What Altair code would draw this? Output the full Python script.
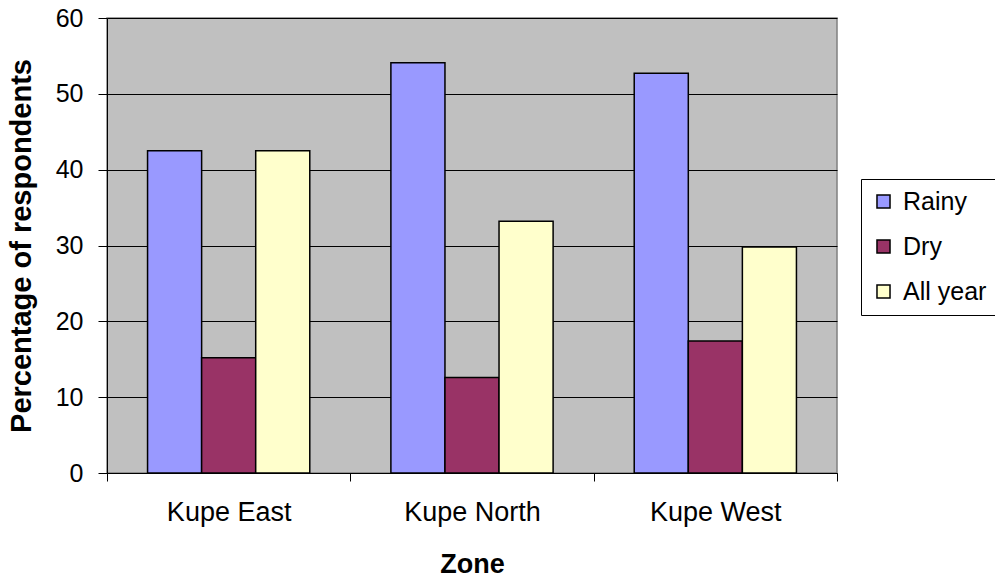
import altair as alt
import pandas as pd

zones = ["Kupe East", "Kupe North", "Kupe West"]
seasons = ["Rainy", "Dry", "All year"]
rainy = [42.5, 54.1, 52.7]
dry = [15.2, 12.6, 17.4]
all_year = [42.5, 33.2, 29.8]
colors = ["#9999FF", "#993366", "#FFFFCC"]
y_ticks = [0, 10, 20, 30, 40, 50, 60]

rows = []
for i, z in enumerate(zones):
    for s, vals in zip(seasons, [rainy, dry, all_year]):
        rows.append({"Zone": z, "Season": s, "Value": vals[i]})
df = pd.DataFrame(rows)

FONT = "Liberation Sans"

chart = alt.Chart(df).mark_bar(stroke="black", strokeWidth=1.5).encode(
    x=alt.X("Zone:N", sort=zones,
            scale=alt.Scale(paddingInner=0, paddingOuter=0),
            axis=alt.Axis(title="Zone", labelAngle=0, tickBand="extent",
                          labelFontSize=27, titleFontSize=27, titleFontWeight="bold",
                          labelPadding=18, titlePadding=26, tickSize=8,
                          domainColor="black", tickColor="black", labelColor="black",
                          titleColor="black", grid=False)),
    xOffset=alt.XOffset("Season:N", sort=seasons,
                        scale=alt.Scale(paddingInner=0, paddingOuter=0.75)),
    y=alt.Y("Value:Q", scale=alt.Scale(domain=[0, 60], nice=False),
            axis=alt.Axis(title="Percentage of respondents", values=y_ticks,
                          labelFontSize=25, titleFontSize=29, titleFontWeight="bold",
                          labelPadding=15, titlePadding=19, tickSize=9,
                          domainColor="black", tickColor="black", labelColor="black",
                          titleColor="black", grid=True, gridColor="black",
                          gridOpacity=1, gridWidth=1)),
    color=alt.Color("Season:N", sort=seasons,
                    scale=alt.Scale(domain=seasons, range=colors),
                    legend=alt.Legend(title=None, orient="none", legendX=754, legendY=161,
                                      symbolType="square", symbolSize=170,
                                      symbolStrokeColor="black", symbolStrokeWidth=1.5,
                                      labelFontSize=25, labelColor="black",
                                      rowPadding=19, padding=10, strokeColor="black",
                                      fillColor="white", labelOffset=7)),
).properties(
    width=730, height=455,
    autosize=alt.AutoSizeParams(type="none"),
    padding={"left": 107, "top": 18, "right": 158, "bottom": 104},
).configure(
    font=FONT, background="white"
).configure_view(
    fill="#C0C0C0", stroke="#808080", strokeWidth=1.5
)

chart.save("out.html", embed_options={"renderer": "svg", "actions": False})
